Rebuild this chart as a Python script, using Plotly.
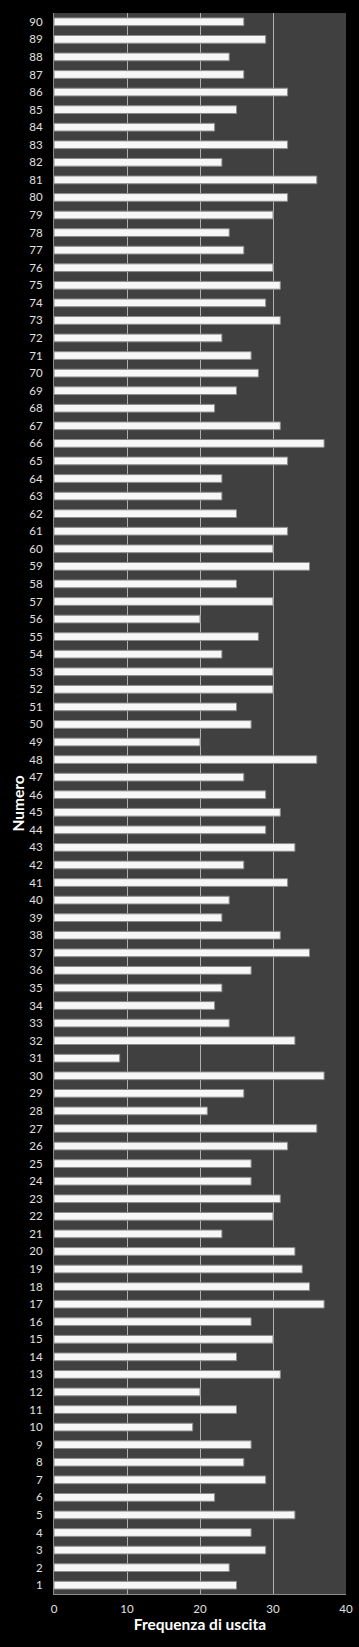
import plotly.graph_objects as go

numeri = list(range(1, 91))
frequenze = [
    25, 24, 29, 27, 33, 22, 29, 26, 27, 19,   # 1-10
    25, 20, 31, 25, 30, 27, 37, 35, 34, 33,   # 11-20
    23, 30, 31, 27, 27, 32, 36, 21, 26, 37,   # 21-30
    9, 33, 24, 22, 23, 27, 35, 31, 23, 24,    # 31-40
    32, 26, 33, 29, 31, 29, 26, 36, 20, 27,   # 41-50
    25, 30, 30, 23, 28, 20, 30, 25, 35, 30,   # 51-60
    32, 25, 23, 23, 32, 37, 31, 22, 25, 28,   # 61-70
    27, 23, 31, 29, 31, 30, 26, 24, 30, 32,   # 71-80
    36, 23, 32, 22, 25, 32, 26, 24, 29, 26,   # 81-90
]
x_ticks = [0, 10, 20, 30, 40]

fig = go.Figure()
fig.add_trace(go.Bar(
    x=frequenze,
    y=numeri,
    orientation="h",
    width=0.44,
    marker=dict(color="#f7f7f7", line=dict(color="#8c8c8c", width=1)),
    hoverinfo="x+y",
))

fig.update_layout(
    width=359,
    height=1647,
    paper_bgcolor="#000000",
    plot_bgcolor="#404040",
    margin=dict(l=54, r=13, t=13, b=53),
    showlegend=False,
    font=dict(family="Lato, 'Open Sans', sans-serif", color="#ffffff"),
    xaxis=dict(
        range=[0, 40],
        tickvals=x_ticks,
        showgrid=True,
        gridcolor="#b0b0b0",
        gridwidth=1,
        zeroline=False,
        showline=True,
        linecolor="#8c8c8c",
        linewidth=1,
        mirror=False,
        automargin=False,
        tickfont=dict(size=11.5, color="#e0e0e0"),
        ticks="",
        ticklabelstandoff=4,
        title=dict(text="<b>Frequenza di uscita</b>", font=dict(size=15.5, color="#ffffff"), standoff=1),
    ),
    yaxis=dict(
        range=[0.5, 90.5],
        tickmode="array",
        tickvals=numeri,
        ticktext=[str(n) for n in numeri],
        showgrid=False,
        zeroline=False,
        showline=True,
        linecolor="#8c8c8c",
        linewidth=1,
        automargin=False,
        tickfont=dict(size=11.5, color="#e0e0e0"),
        ticks="",
        ticklabelstandoff=8,
        title=dict(text="<b>Numero</b>", font=dict(size=15.5, color="#ffffff"), standoff=0),
    ),
    bargap=0.56,
)

fig.write_html("out.html")
